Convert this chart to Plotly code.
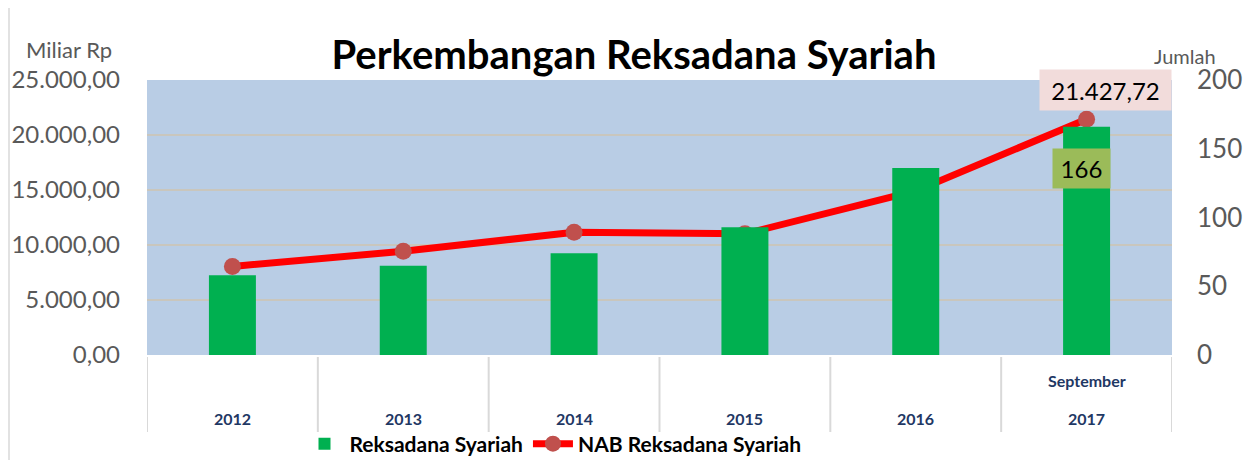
import plotly.graph_objects as go

categories = ["2012", "2013", "2014", "2015", "2016", "September 2017"]
cat_top = ["", "", "", "", "", "September"]
cat_bottom = ["2012", "2013", "2014", "2015", "2016", "2017"]
jumlah = [58, 65, 74, 93, 136, 166]
nab = [8050.07, 9432.19, 11158.00, 11019.43, 14914.63, 21427.72]
left_ticks = [0, 5000, 10000, 15000, 20000, 25000]
left_tick_text = ["0,00", "5.000,00", "10.000,00", "15.000,00", "20.000,00", "25.000,00"]
right_ticks = [0, 50, 100, 150, 200]

FONT = "Lato"
OFF = 8  # page body margin
W, H = 1258 - OFF, 460 - OFF
# plot area in screen pixels
SX0, SX1, SY0, SY1 = 147, 1172, 80, 355
L, R, T, B = SX0 - OFF, W - (SX1 - OFF), SY0 - OFF, H - (SY1 - OFF)
pw, ph = W - L - R, H - T - B

def px_x(x):
    return (x - SX0) / pw

def px_y(y):
    return (SY1 - y) / ph

def id_num(v):
    return f"{v:,.2f}".replace(",", "X").replace(".", ",").replace("X", ".")

fig = go.Figure()
fig.add_trace(go.Bar(
    x=categories, y=jumlah, yaxis="y2", name="<b>Reksadana Syariah</b>",
    marker=dict(color="#00B050", line=dict(width=0)), width=0.275,
))
fig.add_trace(go.Scatter(
    x=categories, y=nab, name="<b>NAB Reksadana Syariah</b>", mode="lines+markers",
    line=dict(color="#FF0000", width=7),
    marker=dict(color="#C0504D", size=17, line=dict(width=0)),
))

annotations = []
for i, (t, b) in enumerate(zip(cat_top, cat_bottom)):
    if t:
        annotations.append(dict(x=i, xref="x", y=px_y(380), yref="paper", text=f"<b>{t}</b>",
                                showarrow=False, font=dict(family=FONT, size=16, color="#1F3864"),
                                yanchor="middle"))
    annotations.append(dict(x=i, xref="x", y=px_y(418), yref="paper", text=f"<b>{b}</b>",
                            showarrow=False, font=dict(family=FONT, size=16, color="#1F3864"),
                            yanchor="middle"))

last = len(categories) - 1
annotations.append(dict(x=last, xref="x", y=nab[-1], yref="y", text=id_num(nab[-1]),
                        showarrow=False, xshift=19, yshift=29, bgcolor="#F2DCDB",
                        width=131, height=40, borderpad=0,
                        font=dict(family=FONT, size=24, color="#000000")))
annotations.append(dict(x=last, xref="x", y=jumlah[-1], yref="y2", text=str(jumlah[-1]),
                        showarrow=False, xshift=-5, yshift=-42, bgcolor="#9BBB59",
                        width=57, height=39, borderpad=0,
                        font=dict(family=FONT, size=24, color="#000000")))
annotations.append(dict(x=px_x(69), xref="paper", y=px_y(50), yref="paper", text="Miliar Rp",
                        showarrow=False, xanchor="center", yanchor="middle",
                        font=dict(family=FONT, size=22, color="#595959")))
annotations.append(dict(x=px_x(1185), xref="paper", y=px_y(56), yref="paper", text="Jumlah",
                        showarrow=False, xanchor="center", yanchor="middle",
                        font=dict(family=FONT, size=20, color="#595959")))

shapes = []
for i in range(len(categories) + 1):
    shapes.append(dict(type="line", xref="x", yref="paper", x0=i - 0.5, x1=i - 0.5,
                       y0=px_y(357), y1=px_y(432), line=dict(color="#D9D9D9", width=2)))
shapes.append(dict(type="rect", xref="paper", yref="paper", x0=px_x(9), x1=px_x(1266),
                   y0=px_y(470), y1=px_y(5), line=dict(color="#D9D9D9", width=1.5), layer="below"))

fig.update_layout(
    width=W, height=H,
    margin=dict(l=L, r=R, t=T, b=B, autoexpand=False),
    paper_bgcolor="#FFFFFF", plot_bgcolor="#B9CDE5",
    title=dict(text="<b>Perkembangan Reksadana Syariah</b>", x=(634 - OFF) / W, xanchor="center",
               y=1 - (55 - OFF) / H, yanchor="middle",
               font=dict(family=FONT, size=40, color="#000000")),
    xaxis=dict(type="category", showticklabels=False, ticks="", showgrid=False, zeroline=False,
               range=[-0.5, 5.5], showline=False),
    yaxis=dict(range=[0, 25000], tickvals=left_ticks, ticktext=left_tick_text, showgrid=True,
               gridcolor="#C9C6BD", gridwidth=1.5, zeroline=False,
               tickfont=dict(family=FONT, size=24, color="#595959"), ticks="", ticklabelstandoff=26),
    yaxis2=dict(range=[0, 200], tickvals=right_ticks, overlaying="y", side="right", showgrid=False,
                zeroline=False, tickfont=dict(family=FONT, size=26, color="#595959"), ticks="",
                ticklabelstandoff=24),
    legend=dict(orientation="h", x=px_x(553), xanchor="center", y=px_y(444), yanchor="middle",
                font=dict(family=FONT, size=21, color="#000000"), bgcolor="rgba(0,0,0,0)",
                itemwidth=40, traceorder="normal", tracegroupgap=0),
    annotations=annotations, shapes=shapes,
    showlegend=True,
)
fig.write_html("out.html")
